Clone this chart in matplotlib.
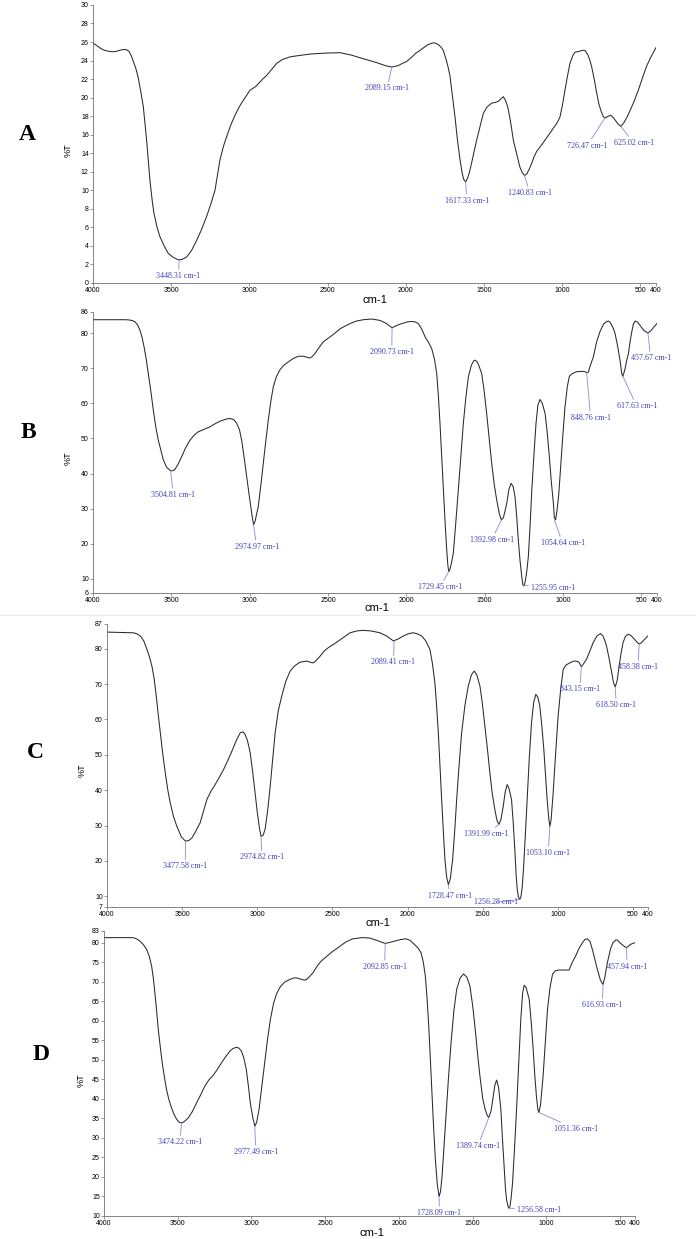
import matplotlib.pyplot as plt

# spectra: (wavenumber cm-1, %T)
a_spec = [(4000, 25.9), (3975, 25.6), (3950, 25.3), (3925, 25.1), (3900, 25.0), (3870, 24.95),
          (3850, 25.0), (3820, 25.15), (3790, 25.2), (3770, 25.0), (3755, 24.5), (3742, 23.9),
          (3725, 23.1), (3710, 22.1), (3695, 20.7), (3678, 19.0), (3657, 15.4), (3636, 11.1),
          (3620, 8.7), (3610, 7.5), (3590, 6.0), (3572, 5.0), (3545, 4.0), (3519, 3.2),
          (3490, 2.8), (3455, 2.5), (3430, 2.55), (3401, 2.8), (3370, 3.5), (3337, 4.6),
          (3305, 5.8), (3273, 7.2), (3245, 8.6), (3220, 10.0), (3188, 13.3), (3165, 14.8),
          (3145, 15.8), (3120, 17.0), (3092, 18.1), (3065, 19.0), (3039, 19.7), (2996, 20.8),
          (2960, 21.2), (2943, 21.5), (2915, 22.0), (2889, 22.4), (2860, 23.0), (2825, 23.7),
          (2790, 24.1), (2740, 24.4), (2680, 24.55), (2613, 24.7), (2520, 24.8), (2421, 24.85),
          (2350, 24.6), (2272, 24.2), (2190, 23.8), (2130, 23.45), (2089, 23.3), (2050, 23.45),
          (2020, 23.7), (1994, 23.9), (1960, 24.4), (1935, 24.8), (1909, 25.1), (1860, 25.7),
          (1830, 25.9), (1813, 25.9), (1790, 25.7), (1772, 25.4), (1760, 25.1), (1740, 24.0),
          (1728, 23.2), (1717, 22.3), (1700, 20.0), (1685, 17.9), (1670, 15.5), (1653, 13.3),
          (1640, 11.9), (1630, 11.2), (1617, 10.9), (1605, 11.3), (1595, 11.8), (1585, 12.5),
          (1565, 14.0), (1547, 15.4), (1525, 16.9), (1504, 18.3), (1480, 19.0), (1451, 19.4),
          (1425, 19.5), (1408, 19.6), (1390, 19.9), (1376, 20.1), (1362, 19.7), (1350, 19.1),
          (1344, 18.7), (1328, 17.2), (1312, 15.4), (1290, 13.9), (1270, 12.5), (1255, 11.9),
          (1240, 11.6), (1225, 11.8), (1210, 12.3), (1195, 12.9), (1180, 13.6), (1163, 14.2),
          (1140, 14.7), (1110, 15.4), (1085, 16.0), (1057, 16.7), (1035, 17.2), (1014, 17.9),
          (998, 19.2), (982, 20.8), (965, 22.4), (950, 23.7), (930, 24.6), (918, 24.9),
          (890, 25.0), (870, 25.1), (854, 25.1), (835, 24.6), (822, 24.0), (811, 23.3),
          (795, 22.0), (779, 20.5), (765, 19.3), (750, 18.5), (737, 17.95), (726, 17.8),
          (705, 18.0), (690, 18.1), (670, 17.8), (645, 17.2), (625, 16.9), (605, 17.3),
          (585, 17.9), (566, 18.6), (540, 19.6), (513, 20.8), (487, 22.1), (460, 23.4),
          (432, 24.4), (400, 25.4)]
a_peaks = [(3448.31, 2.5), (2089.15, 23.3), (1617.33, 10.9), (1240.83, 11.6),
           (726.47, 17.8), (625.02, 16.9)]

b_spec = [(4000, 83.8), (3850, 83.8), (3790, 83.8), (3764, 83.7), (3745, 83.5), (3732, 83.2),
          (3715, 82.3), (3700, 80.8), (3687, 78.8), (3674, 76.1), (3660, 72.5), (3647, 68.5),
          (3630, 63.2), (3615, 58.1), (3600, 53.5), (3583, 49.5), (3565, 46.3), (3551, 43.9),
          (3530, 41.8), (3505, 40.8), (3490, 40.8), (3477, 41.2), (3455, 42.8), (3434, 44.8),
          (3410, 47.2), (3381, 49.5), (3355, 50.9), (3328, 51.9), (3290, 52.6), (3253, 53.3),
          (3220, 54.2), (3189, 54.9), (3150, 55.5), (3125, 55.7), (3100, 55.3), (3083, 54.3),
          (3065, 52.5), (3051, 49.5), (3035, 44.5), (3019, 39.1), (3005, 34.5), (2993, 30.6),
          (2983, 27.5), (2975, 25.4), (2965, 26.5), (2955, 28.5), (2945, 30.6), (2929, 36.5),
          (2913, 42.9), (2897, 49.2), (2881, 55.2), (2865, 60.5), (2849, 64.7), (2830, 67.5),
          (2806, 69.6), (2780, 70.9), (2753, 71.8), (2720, 72.8), (2689, 73.4), (2657, 73.4),
          (2635, 73.1), (2615, 72.9), (2598, 73.4), (2583, 74.2), (2555, 76.0), (2530, 77.5),
          (2500, 78.5), (2466, 79.6), (2420, 81.3), (2359, 82.7), (2320, 83.4), (2274, 83.8),
          (2220, 84.0), (2168, 83.6), (2130, 82.8), (2091, 81.5), (2060, 82.2), (2029, 82.7),
          (1990, 83.2), (1965, 83.3), (1945, 83.2), (1923, 82.7), (1900, 81.0), (1880, 78.9),
          (1860, 77.5), (1838, 75.6), (1820, 72.5), (1806, 68.5), (1795, 62.0), (1785, 54.3),
          (1774, 44.5), (1763, 35.3), (1752, 25.8), (1742, 18.3), (1735, 14.0), (1729, 12.1),
          (1722, 12.6), (1712, 14.5), (1700, 17.3), (1685, 25.5), (1668, 35.3), (1652, 45.0),
          (1636, 54.3), (1620, 61.5), (1604, 67.5), (1585, 70.8), (1570, 72.1), (1561, 72.3),
          (1548, 71.8), (1535, 70.5), (1519, 68.5), (1503, 63.5), (1487, 57.1), (1471, 50.0),
          (1455, 42.9), (1439, 37.0), (1423, 32.5), (1405, 28.3), (1393, 26.8), (1380, 27.5),
          (1370, 29.3), (1359, 31.5), (1345, 35.5), (1331, 37.2), (1318, 36.3), (1306, 33.4),
          (1295, 27.5), (1285, 21.1), (1274, 15.2), (1263, 10.7), (1256, 8.3), (1248, 8.0),
          (1240, 9.5), (1230, 12.5), (1221, 16.4), (1210, 25.0), (1199, 35.3), (1185, 45.5),
          (1172, 54.3), (1160, 59.5), (1146, 61.1), (1132, 60.0), (1114, 57.1), (1100, 51.5),
          (1087, 44.8), (1074, 37.5), (1061, 31.5), (1055, 27.5), (1047, 26.8), (1038, 29.5),
          (1028, 33.5), (1019, 39.1), (1003, 49.5), (987, 59.0), (972, 64.8), (959, 67.7),
          (940, 68.5), (912, 69.0), (880, 69.1), (859, 69.0), (849, 68.7), (838, 68.9),
          (820, 71.5), (806, 73.2), (785, 77.5), (763, 80.5), (740, 82.6), (720, 83.3),
          (710, 83.4), (698, 83.0), (680, 81.5), (667, 79.8), (650, 76.0), (636, 72.3),
          (625, 68.5), (618, 67.7), (605, 69.5), (594, 72.0), (582, 74.2), (570, 78.0),
          (560, 80.5), (550, 82.6), (540, 83.4), (525, 83.2), (508, 82.2), (485, 80.8),
          (458, 80.0), (440, 80.6), (420, 81.7), (400, 82.7)]
b_peaks = [(3504.81, 40.8), (2974.97, 25.4), (2090.73, 81.5), (1729.45, 12.1),
           (1392.98, 26.8), (1255.95, 8.3), (1054.64, 26.8), (848.76, 68.7),
           (617.63, 67.7), (457.67, 80.0)]

c_spec = [(4000, 84.7), (3900, 84.6), (3823, 84.5), (3800, 84.2), (3778, 83.6), (3755, 82.2),
          (3734, 79.8), (3718, 77.8), (3701, 75.1), (3686, 71.5), (3672, 66.6), (3658, 61.0),
          (3645, 56.2), (3628, 50.0), (3612, 44.9), (3595, 40.0), (3579, 36.4), (3557, 32.5),
          (3535, 29.8), (3505, 26.8), (3478, 25.6), (3455, 25.8), (3435, 26.5), (3408, 28.5),
          (3380, 30.8), (3357, 34.2), (3335, 37.4), (3307, 39.8), (3280, 41.6), (3252, 43.7),
          (3225, 45.8), (3197, 48.3), (3169, 51.0), (3140, 54.0), (3114, 56.2), (3095, 56.5),
          (3081, 55.8), (3065, 54.0), (3047, 50.6), (3030, 45.0), (3014, 39.2), (2999, 33.5),
          (2985, 29.2), (2975, 27.0), (2962, 27.2), (2948, 28.9), (2930, 34.5), (2914, 41.1),
          (2897, 49.0), (2881, 56.2), (2860, 62.5), (2837, 66.6), (2810, 70.8), (2781, 73.7),
          (2750, 75.2), (2715, 76.2), (2671, 76.5), (2640, 76.1), (2626, 76.0), (2605, 76.8),
          (2582, 77.9), (2555, 79.3), (2527, 80.3), (2490, 81.3), (2449, 82.5), (2410, 83.7),
          (2383, 84.5), (2340, 85.0), (2294, 85.2), (2240, 85.0), (2183, 84.5), (2140, 83.6),
          (2094, 82.2), (2060, 82.8), (2028, 83.6), (1990, 84.3), (1962, 84.5), (1935, 84.2),
          (1906, 83.6), (1880, 82.3), (1851, 79.8), (1835, 76.0), (1818, 70.4), (1806, 63.5),
          (1795, 56.2), (1784, 46.5), (1773, 37.4), (1762, 28.5), (1751, 20.4), (1740, 15.5),
          (1728, 13.3), (1715, 15.0), (1700, 20.4), (1686, 28.5), (1673, 37.4), (1657, 47.0),
          (1640, 56.2), (1618, 64.0), (1596, 69.4), (1575, 72.6), (1556, 73.7), (1538, 72.5),
          (1518, 69.4), (1502, 64.5), (1485, 58.1), (1468, 51.5), (1452, 44.9), (1436, 39.0),
          (1419, 34.5), (1405, 31.5), (1392, 30.3), (1378, 31.8), (1363, 35.5), (1350, 39.5),
          (1337, 41.6), (1325, 40.5), (1308, 37.4), (1297, 31.0), (1286, 23.2), (1278, 16.5),
          (1270, 11.9), (1262, 9.8), (1253, 9.1), (1245, 10.0), (1237, 12.5), (1230, 16.6),
          (1217, 26.5), (1204, 37.4), (1190, 49.0), (1175, 59.1), (1160, 65.0), (1146, 67.1),
          (1133, 66.3), (1120, 63.8), (1107, 58.5), (1093, 51.5), (1082, 44.5), (1071, 37.4),
          (1060, 32.0), (1053, 29.8), (1045, 31.5), (1031, 39.2), (1015, 50.0), (998, 60.9),
          (981, 68.5), (964, 74.2), (945, 75.4), (920, 76.0), (895, 76.5), (876, 76.5),
          (860, 76.2), (843, 74.9), (828, 75.8), (809, 77.0), (788, 79.2), (765, 81.7),
          (740, 83.6), (716, 84.3), (700, 83.6), (688, 82.4), (676, 80.8), (660, 77.5),
          (643, 73.7), (630, 70.5), (618, 69.2), (605, 71.0), (592, 75.1), (580, 78.5),
          (566, 81.7), (550, 83.5), (533, 84.1), (515, 83.8), (499, 83.1), (480, 82.2),
          (462, 81.4), (445, 81.6), (433, 82.2), (415, 83.0), (400, 83.6)]
c_peaks = [(3477.58, 25.6), (2974.82, 27.0), (2089.41, 82.2), (1728.47, 13.3),
           (1391.99, 30.3), (1256.28, 9.1), (1053.10, 29.8), (843.15, 74.9),
           (618.50, 69.2), (458.38, 81.4)]

d_spec = [(4000, 81.3), (3900, 81.3), (3802, 81.3), (3780, 81.0), (3756, 80.4), (3735, 79.6),
          (3711, 78.3), (3693, 76.5), (3677, 74.0), (3665, 70.8), (3655, 67.2), (3643, 62.5),
          (3632, 57.8), (3618, 53.2), (3605, 49.2), (3590, 45.5), (3576, 42.4), (3560, 39.8),
          (3542, 37.7), (3525, 36.0), (3508, 34.8), (3490, 34.0), (3474, 33.8), (3455, 34.2),
          (3429, 35.1), (3400, 36.8), (3373, 38.9), (3345, 41.0), (3317, 43.2), (3290, 44.8),
          (3260, 46.0), (3232, 47.5), (3204, 49.2), (3175, 50.8), (3147, 52.2), (3125, 52.9),
          (3102, 53.2), (3085, 53.0), (3068, 52.2), (3052, 50.5), (3035, 47.5), (3020, 43.0),
          (3008, 38.9), (2990, 35.0), (2977, 33.0), (2965, 34.0), (2949, 37.2), (2930, 43.2),
          (2911, 49.2), (2892, 55.0), (2872, 60.3), (2850, 64.5), (2832, 66.7), (2805, 68.7),
          (2775, 69.9), (2740, 70.6), (2708, 71.0), (2685, 70.9), (2662, 70.6), (2640, 70.4),
          (2625, 70.6), (2605, 71.4), (2583, 72.3), (2555, 74.0), (2527, 75.3), (2490, 76.5),
          (2448, 77.8), (2403, 79.0), (2360, 80.2), (2313, 81.0), (2250, 81.3), (2200, 81.2),
          (2150, 80.6), (2093, 79.8), (2060, 80.1), (2031, 80.4), (1990, 80.8), (1952, 81.0),
          (1925, 80.6), (1896, 79.6), (1870, 78.6), (1850, 77.4), (1835, 75.0), (1821, 71.4),
          (1810, 66.0), (1798, 58.6), (1787, 50.0), (1776, 41.5), (1765, 32.5), (1753, 24.4),
          (1740, 18.0), (1728, 15.0), (1718, 16.3), (1708, 20.1), (1695, 27.5), (1681, 35.5),
          (1665, 45.0), (1647, 54.3), (1628, 62.5), (1609, 68.0), (1585, 71.0), (1562, 72.0),
          (1540, 71.2), (1519, 68.9), (1500, 63.8), (1483, 57.8), (1467, 51.5), (1451, 45.8),
          (1432, 40.0), (1415, 37.2), (1400, 35.6), (1390, 35.3), (1375, 37.0), (1361, 40.6),
          (1350, 43.5), (1338, 44.8), (1325, 43.0), (1309, 37.2), (1298, 29.5), (1286, 21.8),
          (1278, 17.0), (1270, 14.0), (1257, 12.0), (1248, 12.4), (1240, 14.5), (1230, 18.4),
          (1217, 27.0), (1203, 37.2), (1188, 49.0), (1174, 60.3), (1162, 67.0), (1151, 69.1),
          (1138, 68.5), (1117, 65.5), (1103, 59.5), (1090, 52.6), (1079, 46.0), (1068, 40.6),
          (1058, 37.2), (1051, 36.5), (1040, 38.5), (1023, 45.8), (1008, 54.5), (993, 62.9),
          (976, 68.5), (959, 71.9), (940, 72.8), (914, 73.0), (870, 73.0), (847, 73.0),
          (825, 75.0), (802, 76.6), (780, 78.5), (756, 80.0), (740, 80.8), (723, 81.0),
          (705, 80.3), (689, 78.3), (672, 75.8), (655, 73.2), (635, 70.5), (617, 69.3),
          (605, 71.0), (587, 74.9), (565, 78.5), (549, 80.0), (530, 80.7), (520, 80.7),
          (505, 80.1), (490, 79.6), (470, 79.0), (458, 78.7), (445, 79.1), (429, 79.6),
          (400, 80.0)]
d_peaks = [(3474.22, 33.8), (2977.49, 33.0), (2092.85, 79.8), (1728.09, 15.0),
           (1389.74, 35.3), (1256.58, 12.0), (1051.36, 36.5), (616.93, 69.3), (457.94, 78.7)]

x_ticks = [4000, 3500, 3000, 2500, 2000, 1500, 1000, 500, 400]

# layout: axes rect (fig fraction), y range/ticks, peak-label text positions (data units)
panels = [
    dict(letter="A", spec=a_spec, peaks=a_peaks,
         rect=[0.1336, 0.7716, 0.8089, 0.2244], ylim=(0, 30),
         yticks=list(range(0, 31, 2)),
         text_pos=[(3455, 0.75), (2120, 21.0), (1609, 8.9), (1206, 9.7), (841, 14.8), (541, 15.1)],
         letter_xy=(27, 135), pct_xy=(68, 150), cm_xy=(375, 300)),
    dict(letter="B", spec=b_spec, peaks=b_peaks,
         rect=[0.1336, 0.5214, 0.8103, 0.2268], ylim=(6, 86),
         yticks=[6, 10, 20, 30, 40, 50, 60, 70, 80, 86],
         text_pos=[(3487, 33.9), (2955, 19.2), (2093, 74.6), (1785, 7.6), (1455, 21.1),
                   (1061, 7.4), (1002, 20.2), (823, 55.9), (529, 59.2), (440, 72.9)],
         letter_xy=(28, 433), pct_xy=(68, 458), cm_xy=(377, 608)),
    dict(letter="C", spec=c_spec, peaks=c_peaks,
         rect=[0.1537, 0.2680, 0.7773, 0.2284], ylim=(7, 87),
         yticks=[7, 10, 20, 30, 40, 50, 60, 70, 80, 87],
         text_pos=[(3479, 18.5), (2970, 21.0), (2094, 76.2), (1718, 10.2), (1474, 27.6),
                   (1408, 8.3), (1064, 22.3), (854, 68.5), (610, 64.0), (466, 74.8)],
         letter_xy=(35, 752), pct_xy=(82, 770), cm_xy=(378, 923)),
    dict(letter="D", spec=d_spec, peaks=d_peaks,
         rect=[0.1494, 0.0186, 0.7629, 0.2300], ylim=(10, 83),
         yticks=[10, 15, 20, 25, 30, 35, 40, 45, 50, 55, 60, 65, 70, 75, 80, 83],
         text_pos=[(3486, 28.9), (2971, 26.4), (2098, 73.8), (1726, 10.8), (1467, 27.8),
                   (1050, 11.6), (801, 32.3), (621, 64.0), (452, 73.8)],
         letter_xy=(41, 1055), pct_xy=(81, 1080), cm_xy=(372, 1233)),
]

W, H = 696, 1239
fig = plt.figure(figsize=(W / 100, H / 100), dpi=100)

spine_col = "#707070"
label_col = "#4040c0"
lead_col = "#8888dd"

for p in panels:
    ax = fig.add_axes(p["rect"])
    wn, t = zip(*p["spec"])
    ax.plot(wn, t, color="#2a2a2a", lw=0.75)
    ax.set_xlim(4000, 400)
    ax.set_ylim(*p["ylim"])
    ax.set_xticks(x_ticks)
    ax.set_yticks(p["yticks"])
    for s in ["top", "right"]:
        ax.spines[s].set_visible(False)
    for s in ["left", "bottom"]:
        ax.spines[s].set_color(spine_col)
        ax.spines[s].set_linewidth(0.6)
    ax.tick_params(labelsize=5, length=2, width=0.5, color=spine_col, pad=1)
    for lab in ax.get_xticklabels() + ax.get_yticklabels():
        lab.set_family("Liberation Sans")

    for (pk, pt), (tx, ty) in zip(p["peaks"], p["text_pos"]):
        ax.annotate(f"{pk:.2f} cm-1", xy=(pk, pt), xytext=(tx, ty),
                    ha="center", va="center", fontsize=5.8, color=label_col,
                    family="Liberation Serif", annotation_clip=False,
                    arrowprops=dict(arrowstyle="-", color=lead_col, lw=0.6,
                                    shrinkA=0, shrinkB=0))

    lx, ly = p["letter_xy"]
    fig.text(lx / W, 1 - ly / H, p["letter"], fontsize=17, fontweight="bold",
             family="Liberation Serif", ha="center", va="center")
    px, py = p["pct_xy"]
    fig.text(px / W, 1 - py / H, "%T", fontsize=6.5, rotation=90,
             family="Liberation Sans", ha="center", va="center")
    cx, cy = p["cm_xy"]
    fig.text(cx / W, 1 - cy / H, "cm-1", fontsize=8,
             family="Liberation Sans", ha="center", va="center")

# faint strip border between panels B and C
fig.add_artist(plt.Line2D([0, 1], [1 - 615 / H, 1 - 615 / H], color="#ececec", lw=0.8))

fig.savefig("out.png", dpi=100)
